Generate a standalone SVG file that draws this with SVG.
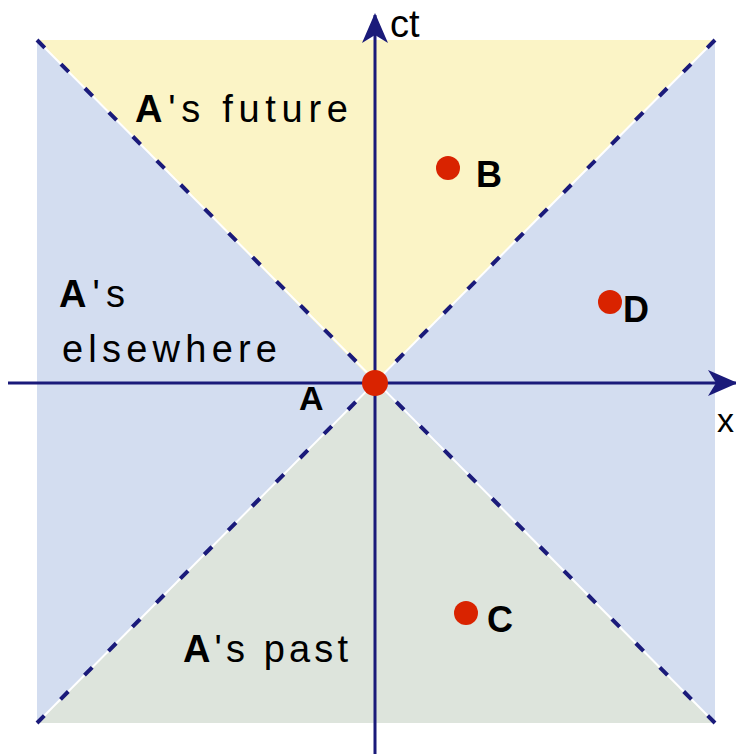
<svg xmlns="http://www.w3.org/2000/svg" width="736" height="754" viewBox="0 0 736 754">
<style>
.lbl{font-family:"Liberation Sans",Arial,sans-serif;font-size:38px;fill:#000}
.b{font-weight:bold}
.cone{fill:none;stroke:#ffffff;stroke-width:2}
.dash{fill:none;stroke:#1a1a7a;stroke-width:4;stroke-dasharray:11 23}
.axis{stroke:#1a1a7a;stroke-width:3;fill:none}
.dot{fill:#d92300}
</style>
<defs>
<marker id="arr" viewBox="0 0 30 30" refX="28" refY="15" markerWidth="30" markerHeight="30" markerUnits="userSpaceOnUse" orient="auto">
<path d="M0,2 L30,15 L0,28 L8,15 Z" fill="#1a1a7a"/>
</marker>
</defs>
<rect width="736" height="754" fill="#ffffff"/>
<g id="regions">
<rect id="elsewhere-region" x="37" y="40" width="678" height="683" fill="#d3ddf0"/>
<polygon id="future-region" points="37,40 715,40 375,383" fill="#fbf4c6"/>
<polygon id="past-region" points="37,723 715,723 375,383" fill="#dde4dc"/>
</g>
<g id="connectors">
<line class="cone" x1="37" y1="40" x2="715" y2="723"/>
<line class="cone" x1="715" y1="40" x2="37" y2="723"/>
<line class="dash" x1="37" y1="40" x2="715" y2="723"/>
<line class="dash" x1="715" y1="40" x2="37" y2="723"/>
<line class="axis" x1="375" y1="754" x2="375" y2="15" marker-end="url(#arr)"/>
<line class="axis" x1="8" y1="383" x2="736" y2="383" marker-end="url(#arr)"/>
</g>
<g id="axis-labels">
<text class="lbl" x="390" y="37" style="font-size:38px">ct</text>
<text class="lbl" x="717" y="432" style="font-size:34px">x</text>
</g>
<g id="label-future">
<text class="lbl" x="135" y="122" textLength="213" lengthAdjust="spacing"><tspan class="b">A</tspan>'s future</text>
</g>
<g id="label-elsewhere">
<text class="lbl" x="59" y="307" textLength="66" lengthAdjust="spacing"><tspan class="b">A</tspan>'s</text>
<text class="lbl" x="62" y="362" textLength="215" lengthAdjust="spacing">elsewhere</text>
</g>
<g id="label-past">
<text class="lbl" x="183" y="662" textLength="165" lengthAdjust="spacing"><tspan class="b">A</tspan>'s past</text>
</g>
<g id="node-A">
<circle class="dot" cx="375" cy="383" r="13"/>
<text class="lbl b" x="299" y="410" style="font-size:34px">A</text>
</g>
<g id="node-B">
<circle class="dot" cx="448" cy="168" r="12"/>
<text class="lbl b" x="476" y="187" style="font-size:36px">B</text>
</g>
<g id="node-C">
<circle class="dot" cx="466" cy="613" r="12"/>
<text class="lbl b" x="487" y="632" style="font-size:36px">C</text>
</g>
<g id="node-D">
<circle class="dot" cx="610" cy="302" r="12"/>
<text class="lbl b" x="623" y="322" style="font-size:36px">D</text>
</g>
</svg>
